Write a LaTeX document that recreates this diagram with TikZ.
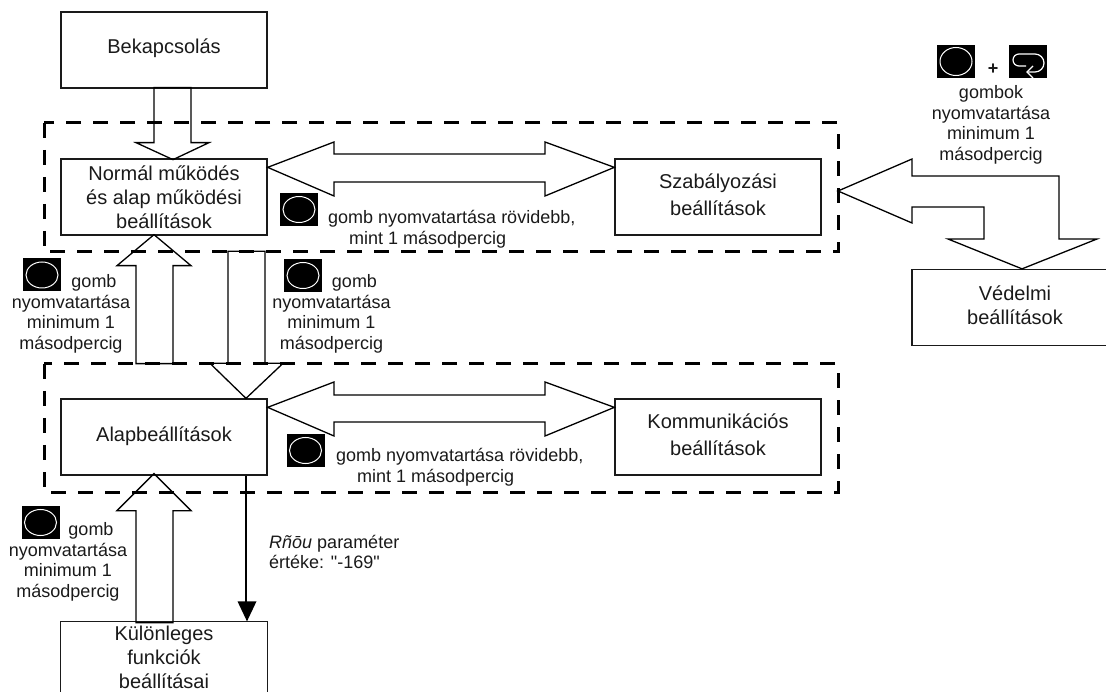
\documentclass[tikz,border=0pt]{standalone}
\usepackage{fontspec}
\setmainfont{Liberation Sans}
\newfontfamily\plainq{Liberation Sans}
\usetikzlibrary{calc}
\definecolor{ink}{HTML}{1A1A1A}
\tikzset{
  x=1pt,y=-1pt,
  box/.style={draw=ink,line width=1.3pt,minimum width=206pt,minimum height=76pt,inner sep=0pt,align=center,font=\fontsize{20}{24}\selectfont,text=ink},
  group/.style={draw=black,line width=3pt,dash pattern=on 15pt off 12pt},
  blockarrow/.style={draw=black,line width=1.3pt,line join=miter},
  note/.style={align=center,inner sep=0pt,font=\fontsize{18}{20.5}\selectfont,text=ink},
  noteleft/.style={note,align=left,anchor=west},
  btn/.style={fill=black,draw=none,minimum width=38pt,minimum height=33pt,inner sep=0pt,
    path picture={\draw[white,line width=1pt] (path picture bounding box.center) ellipse (16 and 13);}},
  btnplain/.style={fill=black,draw=none,minimum width=38pt,minimum height=33pt,inner sep=0pt},
}
\begin{document}
\begin{tikzpicture}
\useasboundingbox (0,0) rectangle (1106,692);
\clip (0,0) rectangle (1106,692);
% groups
\draw[group] (44,123) rectangle (838,252);
\draw[group] (44,364) rectangle (838,492);
% boxes
\node[box] (bek) at (164,50) {\raisebox{7pt}{Bekapcsolás}};
\node[box] (norm) at (164,197) {Normál működés\\és alap működési\\beállítások};
\node[box,font=\fontsize{20}{26}\selectfont] (szab) at (718,197) {\raisebox{2pt}{\begin{tabular}{@{}c@{}}Szabályozási\\[1pt]beállítások\end{tabular}}};
\node[box] (alap) at (164,437) {\raisebox{6pt}{Alapbeállítások}};
\node[box,font=\fontsize{20}{26}\selectfont] (komm) at (718,437) {\raisebox{2pt}{\begin{tabular}{@{}c@{}}Kommunikációs\\[1pt]beállítások\end{tabular}}};
\node[box,draw=none,minimum height=70pt] (kul) at (164,657) {Különleges\\funkciók\\beállításai};
\draw[draw=ink,line width=1.3pt] (kul.south west) ++(0,3) -- (kul.north west) -- (kul.north east) -- ++(0,73);
\node[box] (ved) at (1015,307.5) {\raisebox{1pt}{\begin{tabular}{@{}c@{}}Védelmi\\beállítások\end{tabular}}};
% block arrows
\coordinate (t1) at ($(bek.south)+(9,71)$);
\draw[blockarrow] (t1) -- ++(-37,-17) -- ++(18,0) -- ++(0,-55) -- ++(37,0) -- ++(0,55) -- ++(18,0) -- cycle;
\coordinate (t2) at ($(norm.south)+(-10,-1)$);
\draw[blockarrow] (t2) -- ++(-37,31) -- ++(19,0) -- ++(0,98) -- ++(37,0) -- ++(0,-98) -- ++(18,0) -- cycle;
\coordinate (t3) at ($(alap.north)+(82,0)$);
\draw[blockarrow] (t3) -- ++(-36,-35) -- ++(18,0) -- ++(0,-112) -- ++(37,0) -- ++(0,112) -- ++(18,0) -- cycle;
\coordinate (t4) at ($(alap.south)+(-10,-2)$);
\draw[blockarrow] (t4) -- ++(-37,37) -- ++(19,0) -- ++(0,112) -- ++(37,0) -- ++(0,-112) -- ++(18,0) -- cycle;
\coordinate (d1l) at ($(norm.north east)+(0,9)$);
\coordinate (d1r) at ($(szab.north west)+(0,9)$);
\draw[blockarrow] (d1l) -- (334,142) -- (334,154) -- (545,154) -- (545,142) -- (d1r) -- (545,196) -- (545,182) -- (334,182) -- (334,196) -- cycle;
\coordinate (d2l) at ($(alap.north east)+(0,9)$);
\coordinate (d2r) at ($(komm.north west)+(0,9)$);
\draw[blockarrow] (d2l) -- (334,382) -- (334,395) -- (545,395) -- (545,382) -- (d2r) -- (545,436) -- (545,422) -- (334,422) -- (334,436) -- cycle;
\coordinate (t5) at (838,191);
\coordinate (t6) at ($(ved.north)+(7,0)$);
\draw[blockarrow] (t5) -- (912,159) -- (912,176) -- (1059,176) -- (1059,239) -- (1097,239) -- (t6) -- (948,239) -- (984,239) -- (984,207) -- (912,207) -- (912,223) -- cycle;
% thin arrow
\coordinate (thinS) at ($(alap.south)+(82,0)$);
\coordinate (thinE) at ($(kul.north)+(83,0)$);
\draw[black,line width=1.3pt] (thinS) -- (thinS |- 0,603);
\fill[black] (thinE) -- ++(-9.5,-20) -- ++(19,0) -- cycle;
% buttons
\node[btn] (b1) at (299,209.5) {};
\node[btn] (b2) at (42,275) {};
\node[btn] (b3) at (303,275.5) {};
\node[btn] (b4) at (305.5,450.5) {};
\node[btn] (b5) at (40.5,522.5) {};
\node[btn,path picture={\draw[white,line width=1pt] (path picture bounding box.center) ellipse (16 and 14);}] (b6) at (956,61.5) {};
\node[btnplain] (b7) at (1027.5,61.5) {};
\draw[white,line width=1.2pt] (1026,66) -- (1019,66) arc[start angle=90,end angle=270,radius=6] -- (1035,54) arc[start angle=-90,end angle=90,radius=9] -- (1028,72);
\draw[white,line width=1.2pt] (1033,66) -- (1027,72) -- (1033,78);
\node[font=\bfseries\fontsize{18}{20}\selectfont,text=ink,inner sep=0pt] (plus) at (993,69) {+};
% notes
\node[note] (n6) at (991,125) {gombok\\nyomvatartása\\minimum 1\\másodpercig};
\node[noteleft] (n1) at (328,229) {gomb nyomvatartása rövidebb,\\\hspace*{21pt}mint 1 másodpercig};
\node[noteleft] (n4) at (336,467) {gomb nyomvatartása rövidebb,\\\hspace*{21pt}mint 1 másodpercig};
\node[note] (n2) at (71,314) {\hspace*{46pt}gomb\\nyomvatartása\\minimum 1\\másodpercig};
\node[note] (n3) at (331.5,314) {\hspace*{46pt}gomb\\nyomvatartása\\minimum 1\\másodpercig};
\node[note] (n5) at (68,562) {\hspace*{46pt}gomb\\nyomvatartása\\minimum 1\\másodpercig};
\node[noteleft] (n7) at (269,552) {{\fontsize{18}{18}\selectfont\itshape Rñōu} paraméter\\értéke: {\plainq"}-169{\plainq"}};
\end{tikzpicture}
\end{document}
